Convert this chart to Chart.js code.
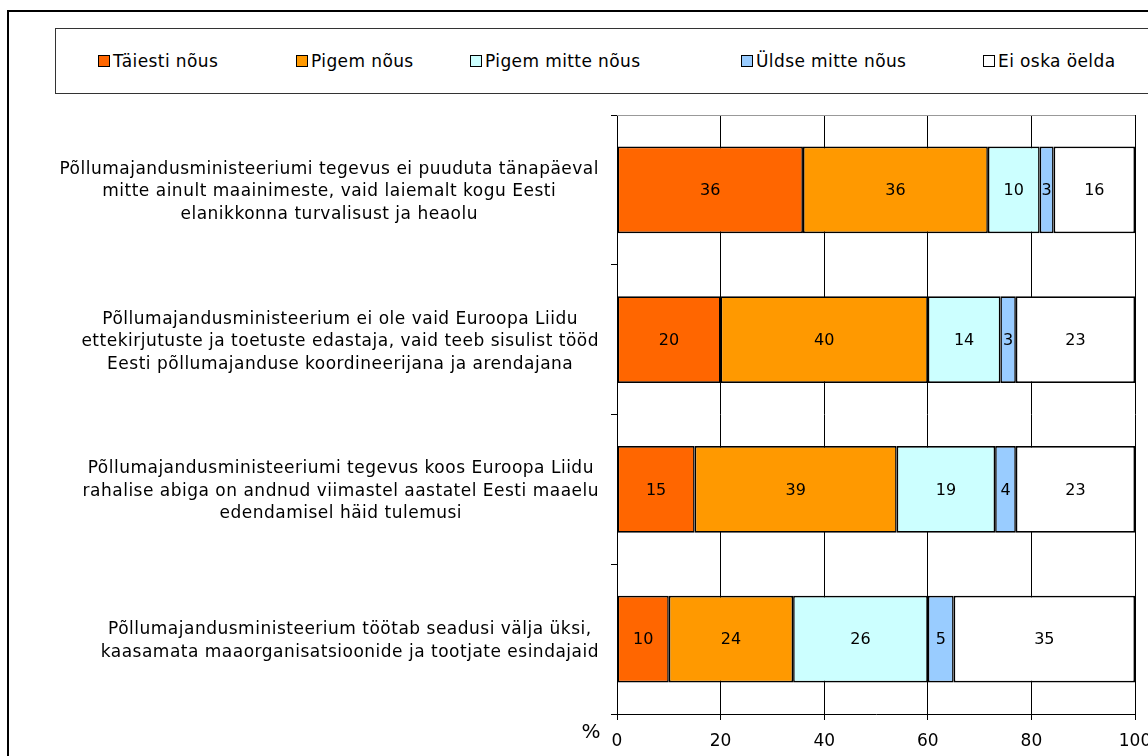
<!DOCTYPE html>
<html>
<head>
<meta charset="utf-8">
<script src="https://cdn.jsdelivr.net/npm/chart.js@4.4.0/dist/chart.umd.min.js"></script>
<style>
  html, body { margin: 0; padding: 0; background: #fff; }
  #wrap { position: relative; width: 1148px; height: 756px; overflow: hidden; font-family: "DejaVu Sans", sans-serif; }
  #frame { position: absolute; left: 7px; top: 10px; width: 1200px; height: 800px; border: 2px solid #000; box-sizing: border-box; }
  #legendBox { position: absolute; left: 55px; top: 28px; width: 1150px; height: 66px; border: 1px solid #333; box-sizing: border-box; }
  .item { position: absolute; top: 50px; height: 22px; display: flex; align-items: center; font-size: 17px; letter-spacing: 0.4px; color: #000; white-space: nowrap; }
  .mark { width: 12px; height: 12px; border: 1px solid #000; box-sizing: border-box; margin-right: 3px; }
  canvas { position: absolute; left: 0; top: 0; }
</style>
</head>
<body>
<div id="wrap">
  <div id="frame"></div>
  <div id="legendBox"></div>
  <div id="legend"></div>
  <canvas id="chart" width="1148" height="756"></canvas>
</div>
<script>
const categories = [
  ['Põllumajandusministeeriumi tegevus ei puuduta tänapäeval', 'mitte ainult maainimeste, vaid laiemalt kogu Eesti', 'elanikkonna turvalisust ja heaolu'],
  ['Põllumajandusministeerium ei ole vaid Euroopa Liidu', 'ettekirjutuste ja toetuste edastaja, vaid teeb sisulist tööd', 'Eesti põllumajanduse koordineerijana ja arendajana'],
  ['Põllumajandusministeeriumi tegevus koos Euroopa Liidu', 'rahalise abiga on andnud viimastel aastatel Eesti maaelu', 'edendamisel häid tulemusi'],
  ['Põllumajandusministeerium töötab seadusi välja üksi,', 'kaasamata maaorganisatsioonide ja tootjate esindajaid']
];

// values (labels show them rounded)
const seriesNames = ['Täiesti nõus', 'Pigem nõus', 'Pigem mitte nõus', 'Üldse mitte nõus', 'Ei oska öelda'];
const taiestiNous = [35.9, 20, 15, 10];
const pigemNous = [35.7, 40, 39, 24];
const pigemMitteNous = [10.0, 14, 19, 26];
const uldseMitteNous = [2.7, 3, 4, 5];
const eiOskaOelda = [15.7, 23, 23, 35];
const xTicks = [0, 20, 40, 60, 80, 100];

const colors = ['#FF6600', '#FF9900', '#CCFFFF', '#99CCFF', '#FFFFFF'];
const legendLeft = [98, 296, 470, 741, 983];
const seriesValues = [taiestiNous, pigemNous, pigemMitteNous, uldseMitteNous, eiOskaOelda];

// html legend
const legendEl = document.getElementById('legend');
seriesNames.forEach((name, i) => {
  const item = document.createElement('div');
  item.className = 'item';
  item.style.left = legendLeft[i] + 'px';
  const mark = document.createElement('span');
  mark.className = 'mark';
  mark.style.background = colors[i];
  item.appendChild(mark);
  item.appendChild(document.createTextNode(name));
  legendEl.appendChild(item);
});

const FONT = '"DejaVu Sans", sans-serif';

const labelPlugin = {
  id: 'labelPlugin',
  afterDatasetsDraw(chart) {
    const ctx = chart.ctx;
    ctx.save();
    ctx.fillStyle = '#000';
    ctx.textAlign = 'center';
    ctx.textBaseline = 'middle';
    ctx.font = '16px ' + FONT;
    chart.data.datasets.forEach((ds, i) => {
      const meta = chart.getDatasetMeta(i);
      meta.data.forEach((bar, j) => {
        const p = bar.getCenterPoint();
        ctx.fillText(String(Math.round(ds.data[j])), p.x, p.y + 1);
      });
    });
    ctx.restore();
  },
  afterDraw(chart) {
    const ctx = chart.ctx;
    const y = chart.scales.y;
    const x = chart.scales.x;
    const area = chart.chartArea;
    ctx.save();
    // top border of plot area
    ctx.strokeStyle = '#999';
    ctx.lineWidth = 1;
    ctx.beginPath();
    ctx.moveTo(area.left, Math.round(area.top) + 0.5);
    ctx.lineTo(area.right, Math.round(area.top) + 0.5);
    ctx.stroke();

    // category labels: block right-aligned, lines centred
    ctx.fillStyle = '#000';
    ctx.font = '17px ' + FONT;
    ctx.letterSpacing = '0.5px';
    ctx.textAlign = 'center';
    ctx.textBaseline = 'middle';
    const lh = 22.5;
    chart.data.labels.forEach((lines, i) => {
      const yc = y.getPixelForValue(i) + 2;
      const widest = Math.max(...lines.map(l => ctx.measureText(l).width));
      const cx = y.right - 18 - widest / 2;
      lines.forEach((l, k) => {
        ctx.fillText(l, cx, yc + (k - (lines.length - 1) / 2) * lh);
      });
    });

    // % label
    ctx.letterSpacing = '0px';
    ctx.font = '20px ' + FONT;
    ctx.fillText('%', x.left - 26, x.top + 19);
    ctx.restore();
  }
};

const ctx = document.getElementById('chart').getContext('2d');
new Chart(ctx, {
  type: 'bar',
  data: {
    labels: categories,
    datasets: seriesNames.map((name, i) => ({
      label: name,
      data: seriesValues[i],
      backgroundColor: colors[i],
      borderColor: '#000',
      borderWidth: 1.6,
      borderSkipped: false,
      barPercentage: 0.578,
      categoryPercentage: 1
    }))
  },
  options: {
    indexAxis: 'y',
    responsive: false,
    animation: false,
    events: [],
    layout: { padding: { top: 115, right: 13, left: 0, bottom: 0 } },
    plugins: {
      legend: { display: false },
      tooltip: { enabled: false },
      title: { display: false }
    },
    scales: {
      x: {
        stacked: true,
        min: 0,
        max: 100,
        afterBuildTicks(scale) {
          scale.ticks = xTicks.map(v => ({ value: v }));
        },
        afterFit(scale) {
          scale.height = 42;
          scale.paddingLeft = 0;
          scale.paddingRight = 0;
        },
        grid: { color: '#000', lineWidth: 1, tickLength: 6, drawTicks: true },
        border: { color: '#000', width: 1 },
        ticks: {
          color: '#000',
          padding: 11,
          maxRotation: 0,
          font: { family: FONT, size: 17 }
        }
      },
      y: {
        stacked: true,
        afterFit(scale) {
          scale.width = 617;
        },
        grid: { offset: true, drawOnChartArea: false, color: '#000', tickLength: 6 },
        border: { color: '#000', width: 1 },
        ticks: { display: false }
      }
    }
  },
  plugins: [labelPlugin]
});
</script>
</body>
</html>
